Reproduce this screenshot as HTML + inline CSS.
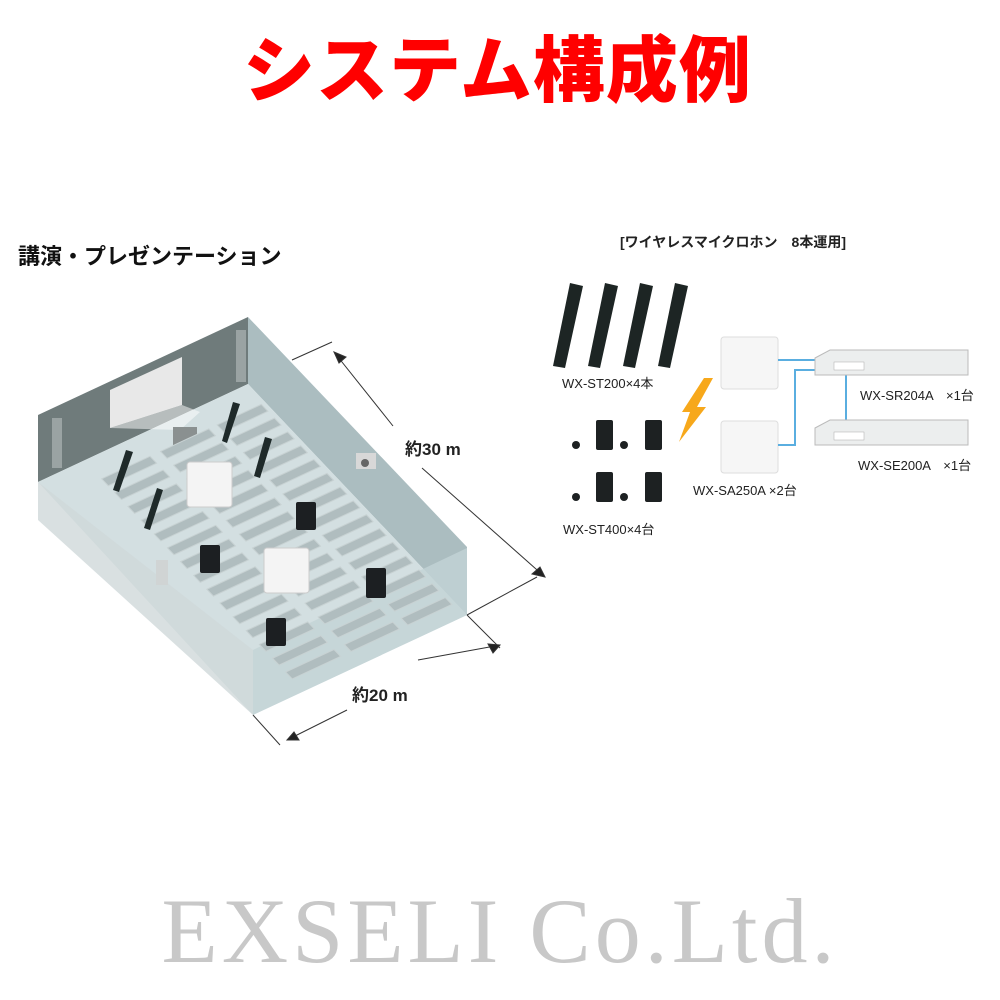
<!DOCTYPE html>
<html><head><meta charset="utf-8"><style>
html,body{margin:0;padding:0;background:#fff;}
body{width:1000px;height:1000px;position:relative;overflow:hidden;font-family:"Liberation Sans","Noto Sans CJK JP",sans-serif;}
.t{position:absolute;white-space:nowrap;}
</style></head><body>
<div class="t" style="left:243px;top:28px;font-size:72px;font-weight:900;color:#f00;line-height:88px;letter-spacing:1px;">システム構成例</div>
<div class="t" style="left:18px;top:243px;font-size:22px;font-weight:bold;color:#111;line-height:28px;">講演・プレゼンテーション</div>
<div class="t" style="left:620px;top:232px;font-size:14px;font-weight:bold;color:#222;line-height:20px;">[ワイヤレスマイクロホン　8本運用]</div>

<svg width="1000" height="1000" style="position:absolute;left:0;top:0" xmlns="http://www.w3.org/2000/svg">
<polygon points="38,415 248,317 248,384 38,482" fill="#6f7b7b"/>
<polygon points="248,317 467,547 467,615 248,384" fill="#abbdc0"/>
<polygon points="38,482 248,384 467,615 253,715" fill="#d3dfe1"/>
<polygon points="253,650 467,548 467,615 253,715" fill="#c3d3d6" opacity="0.8"/>
<polygon points="38,482 253,650 253,715 38,520" fill="#cfd8d9" opacity="0.8"/>
<polygon points="110,390 182,357 182,405 110,428" fill="#e8e8e8"/>
<polygon points="182,405 110,428 180,430 200,412" fill="#fff" opacity="0.5"/>
<rect x="236" y="330" width="10" height="52" fill="#9aa3a3"/>
<rect x="52" y="418" width="10" height="50" fill="#9aa3a3"/>
<rect x="173" y="427" width="24" height="18" fill="#8a9090"/>
<rect x="356" y="453" width="20" height="16" fill="#d8d8d8"/><circle cx="365" cy="463" r="4" fill="#666"/>
<g id="seats"></g>
<g stroke="#333" stroke-width="1" fill="#222">
<line x1="292" y1="360" x2="332" y2="342"/>
<line x1="334" y1="352" x2="393" y2="426"/>
<line x1="422" y1="468" x2="545" y2="577"/>
<line x1="467" y1="615" x2="537" y2="577"/>
<line x1="467" y1="615" x2="500" y2="648"/>
<line x1="418" y1="660" x2="495" y2="646"/>
<line x1="287" y1="740" x2="347" y2="710"/>
<line x1="253" y1="715" x2="280" y2="745"/>
<polygon points="334,352 346,357 339,363"/>
<polygon points="545,577 532,574 540,567"/>
<polygon points="500,645 488,644 493,653"/>
<polygon points="287,740 299,740 294,732"/>
</g>
<text x="405" y="455" font-size="17" font-weight="bold" fill="#222" font-family="Liberation Sans,Noto Sans CJK JP,sans-serif">約30 m</text>
<text x="352" y="701" font-size="17" font-weight="bold" fill="#222" font-family="Liberation Sans,Noto Sans CJK JP,sans-serif">約20 m</text>
<g fill="#1f2a2a">
<polygon points="233,402 240,404 227,443 222,441"/>
<polygon points="265,437 272,439 260,478 254,476"/>
<polygon points="126,450 133,452 119,492 113,490"/>
<polygon points="157,488 163,490 150,530 144,528"/>
</g>
<rect x="187" y="462" width="45" height="45" rx="3" fill="#f4f4f4" stroke="#ccc"/>
<rect x="264" y="548" width="45" height="45" rx="3" fill="#f4f4f4" stroke="#ccc"/>
<g fill="#1c1f22">
<rect x="296" y="502" width="20" height="28" rx="2"/>
<rect x="200" y="545" width="20" height="28" rx="2"/>
<rect x="366" y="568" width="20" height="30" rx="2"/>
<rect x="266" y="618" width="20" height="28" rx="2"/>
</g>
<rect x="156" y="560" width="12" height="25" fill="#d0d4d4"/>
<g fill="#1d2524">
<polygon points="570,283 583,286 565,368 553,366"/>
<polygon points="605,283 618,286 600,368 588,366"/>
<polygon points="640,283 653,286 635,368 623,366"/>
<polygon points="675,283 688,286 670,368 658,366"/>
</g>
<text x="562" y="388" font-size="13" fill="#222" font-family="Liberation Sans,Noto Sans CJK JP,sans-serif">WX-ST200×4本</text>
<g fill="#1d2122">
<rect x="596" y="420" width="17" height="30" rx="2"/>
<rect x="645" y="420" width="17" height="30" rx="2"/>
<rect x="596" y="472" width="17" height="30" rx="2"/>
<rect x="645" y="472" width="17" height="30" rx="2"/>
<circle cx="576" cy="445" r="4"/><circle cx="624" cy="445" r="4"/>
<circle cx="576" cy="497" r="4"/><circle cx="624" cy="497" r="4"/>
</g>
<text x="563" y="534" font-size="13" fill="#222" font-family="Liberation Sans,Noto Sans CJK JP,sans-serif">WX-ST400×4台</text>
<polygon points="713,378 697,407 706,407 679,442 690,412 682,412 704,378" fill="#f7a81b"/>
<rect x="721" y="337" width="57" height="52" rx="3" fill="#f6f6f6" stroke="#ddd"/>
<rect x="721" y="421" width="57" height="52" rx="3" fill="#f6f6f6" stroke="#ddd"/>
<text x="693" y="495" font-size="13" fill="#222" font-family="Liberation Sans,Noto Sans CJK JP,sans-serif">WX-SA250A ×2台</text>
<g stroke="#5aaee0" stroke-width="2" fill="none">
<polyline points="778,360 815,360"/>
<polyline points="778,445 795,445 795,370 815,370"/>
<polyline points="846,375 846,425"/>
</g>
<polygon points="815,358 830,350 968,350 968,375 815,375" fill="#eceeee" stroke="#bbb"/>
<polygon points="815,428 830,420 968,420 968,445 815,445" fill="#eceeee" stroke="#bbb"/>
<rect x="834" y="362" width="30" height="8" fill="#fff" stroke="#aaa" stroke-width="0.5"/>
<rect x="834" y="432" width="30" height="8" fill="#fff" stroke="#aaa" stroke-width="0.5"/>
<text x="860" y="400" font-size="13" fill="#222" font-family="Liberation Sans,Noto Sans CJK JP,sans-serif">WX-SR204A　×1台</text>
<text x="858" y="470" font-size="13" fill="#222" font-family="Liberation Sans,Noto Sans CJK JP,sans-serif">WX-SE200A　×1台</text>
<text x="500" y="962" text-anchor="middle" font-size="92" fill="#c8c8c8" font-family="Liberation Serif,serif" letter-spacing="4">EXSELI Co.Ltd.</text>
</svg>
<script>
(function(){
var g=document.getElementById('seats');var s='';
function P(u,v){return [38+210*u+219*v,482-98*u+230*v];}
var cols=[[0.22,0.45],[0.5,0.73],[0.77,0.98]];
for(var r=0;r<15;r++){var v=0.08+r*0.06;
for(var c=0;c<3;c++){var u0=cols[c][0],u1=cols[c][1];
var a=P(u0,v),b=P(u1,v),cc=P(u1,v+0.03),d=P(u0,v+0.03);
s+='<polygon points="'+a+' '+b+' '+cc+' '+d+'" fill="#b0bdbf" stroke="#c8d2d3" stroke-width="1"/>';}}
g.innerHTML=s;
})();
</script>
</body></html>
